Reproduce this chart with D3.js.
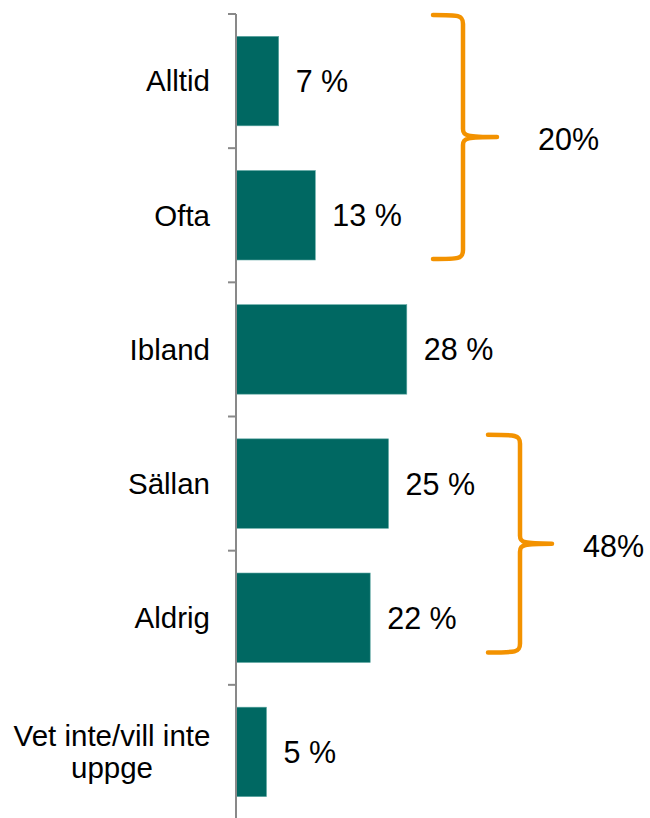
<!DOCTYPE html>
<html>
<head>
<meta charset="utf-8">
<script src="https://cdn.jsdelivr.net/npm/d3@7"></script>
<style>
  html, body { margin: 0; padding: 0; background: #fff; }
  svg { display: block; font-family: "Liberation Sans", Arial, sans-serif; }
</style>
</head>
<body>
<svg id="chart" width="650" height="818"></svg>
<script>
// ---- data ----
const categories = ["Alltid", "Ofta", "Ibland", "Sällan", "Aldrig", "Vet inte/vill inte uppge"];
const categoryLines = [["Alltid"], ["Ofta"], ["Ibland"], ["Sällan"], ["Aldrig"], ["Vet inte/vill inte", "uppge"]];
const values = [7, 13, 28, 25, 22, 5];
const valueLabels = ["7 %", "13 %", "28 %", "25 %", "22 %", "5 %"];
const groupFrom = ["Alltid", "Sällan"];
const groupTo = ["Ofta", "Aldrig"];
const groupLabels = ["20%", "48%"];

// ---- layout ----
const svg = d3.select("#chart");
const barColor = "#006862";
const axisColor = "#898989";
const braceColor = "#F39200";

const pIn = 0.333;
const y = d3.scaleBand().domain(categories).range([14, 819]).paddingInner(pIn).paddingOuter(pIn / 2);
const x = d3.scaleLinear().domain([0, 100]).range([236, 846]);
const step = y.step();
const bandTop = c => y(c) - step * pIn / 2;

// bars
svg.selectAll("rect.bar").data(categories).join("rect")
  .attr("class", "bar")
  .attr("x", x(0))
  .attr("y", d => y(d))
  .attr("width", (d, i) => x(values[i]) - x(0))
  .attr("height", y.bandwidth())
  .attr("fill", barColor)
  .attr("stroke", "#5fa8a3")
  .attr("stroke-width", 0.6);

// axis line and ticks at band boundaries
svg.append("line")
  .attr("x1", x(0)).attr("x2", x(0))
  .attr("y1", bandTop(categories[0])).attr("y2", 818 + 2)
  .attr("stroke", axisColor).attr("stroke-width", 2);
const tickYs = categories.map(bandTop).concat([bandTop(categories[categories.length - 1]) + step]);
svg.selectAll("line.tick").data(tickYs).join("line")
  .attr("class", "tick")
  .attr("x1", x(0) - 8).attr("x2", x(0))
  .attr("y1", d => d).attr("y2", d => d)
  .attr("stroke", axisColor).attr("stroke-width", 2);

// category labels
const catG = svg.selectAll("text.cat").data(categories).join("text")
  .attr("class", "cat")
  .attr("font-size", 29.5)
  .attr("fill", "#000");
catG.each(function(d, i) {
  const lines = categoryLines[i];
  const cy = y(d) + y.bandwidth() / 2;
  const lh = 32;
  const t = d3.select(this);
  if (lines.length === 1) {
    t.attr("x", 210).attr("y", cy).attr("dy", "0.35em").attr("text-anchor", "end").text(lines[0]);
  } else {
    t.attr("text-anchor", "middle");
    lines.forEach((ln, k) => {
      t.append("tspan").attr("x", 112)
        .attr("y", cy + (k - (lines.length - 1) / 2) * lh)
        .attr("dy", "0.35em").text(ln);
    });
  }
});

// value labels
svg.selectAll("text.val").data(categories).join("text")
  .attr("class", "val")
  .attr("x", (d, i) => x(values[i]) + 17)
  .attr("y", d => y(d) + y.bandwidth() / 2)
  .attr("dy", "0.36em")
  .attr("font-size", 30.5)
  .attr("fill", "#000")
  .text((d, i) => valueLabels[i]);

// braces
const braceSpecs = [
  { top: bandTop(groupFrom[0]) + 1, bottom: y(groupTo[0]) + y.bandwidth() - 1, xl: 433, xv: 463, xt: 497, lx: 538 },
  { top: y(groupFrom[1]) - 4, bottom: y(groupTo[1]) + y.bandwidth() - 10, xl: 488, xv: 520, xt: 552, lx: 583 }
];
braceSpecs.forEach((b, i) => {
  const mid = (b.top + b.bottom) / 2;
  const r = 7;
  const path = d3.path();
  path.moveTo(b.xl, b.top);
  path.bezierCurveTo(b.xv - 4, b.top, b.xv, b.top, b.xv, b.top + r + 2);
  path.lineTo(b.xv, mid - 8);
  path.bezierCurveTo(b.xv, mid - 1, b.xv + 4, mid, b.xt, mid);
  path.moveTo(b.xt, mid);
  path.bezierCurveTo(b.xv + 4, mid, b.xv, mid + 1, b.xv, mid + 8);
  path.lineTo(b.xv, b.bottom - r - 2);
  path.bezierCurveTo(b.xv, b.bottom, b.xv - 4, b.bottom, b.xl, b.bottom);
  svg.append("path")
    .attr("d", path.toString())
    .attr("fill", "none")
    .attr("stroke", braceColor)
    .attr("stroke-width", 4.5)
    .attr("stroke-linecap", "round")
    .attr("stroke-linejoin", "round");
  svg.append("text")
    .attr("x", b.lx)
    .attr("y", mid + 2)
    .attr("dy", "0.36em")
    .attr("font-size", 30.5)
    .attr("fill", "#000")
    .text(groupLabels[i]);
});
</script>
</body>
</html>
